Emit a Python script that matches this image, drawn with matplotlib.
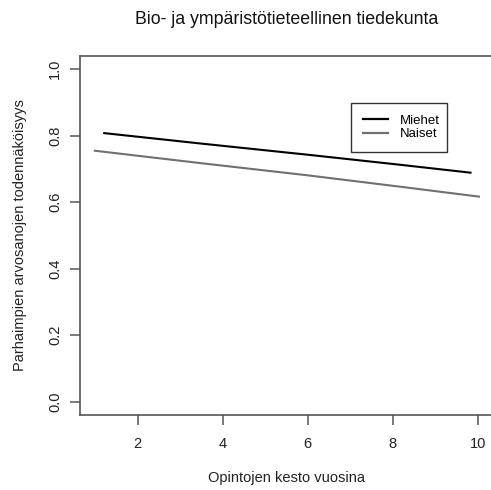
import matplotlib
matplotlib.use("Agg")
import matplotlib.pyplot as plt
from matplotlib.patches import Rectangle

plt.rcParams['font.family'] = ['Liberation Sans', 'DejaVu Sans']

# Predicted probability of top grades by study duration (years)
years_men = [1.21, 3.46, 6.0, 8.16, 9.83]
prob_men = [0.808, 0.777, 0.743, 0.713, 0.689]
years_women = [0.99, 3.46, 6.0, 8.16, 10.03]
prob_women = [0.755, 0.718, 0.681, 0.647, 0.617]

labels = ["Miehet", "Naiset"]
xticks = [2, 4, 6, 8, 10]
yticks = [0.0, 0.2, 0.4, 0.6, 0.8, 1.0]

W, H = 491, 490
fig = plt.figure(figsize=(W / 100, H / 100), dpi=100)
left, right, top, bottom = 80, 493, 56, 415
ax = fig.add_axes([left / W, 1 - bottom / H, (right - left) / W, (bottom - top) / H])

ax.plot(years_men, prob_men, color="black", lw=1.5, label=labels[0])
ax.plot(years_women, prob_women, color="#707070", lw=1.5, label=labels[1])

ax.set_xlim(0.64, 10.36)
ax.set_ylim(-0.04, 1.04)
ax.set_xticks(xticks)
ax.set_xticklabels([str(t) for t in xticks])
ax.set_yticks(yticks)
ax.set_yticklabels([f"{t:.1f}" for t in yticks], rotation=90, va="center")

for s in ax.spines.values():
    s.set_color("#555555")
    s.set_linewidth(1.2)
ax.tick_params(direction="out", length=7, width=1.1, colors="#555555",
               labelcolor="#222222", labelsize=10.5, pad=9)
ax.tick_params(axis="y", pad=6)

ax.set_xlabel("Opintojen kesto vuosina", fontsize=10.5, color="#222222", labelpad=14)
ax.set_ylabel("Parhaimpien arvosanojen todennäköisyys", fontsize=10.5,
              color="#222222", labelpad=15)
fig.text((left + right) / 2 / W, 1 - 20 / H, "Bio- ja ympäristötieteellinen tiedekunta",
         ha="center", va="center", fontsize=12.8, color="#111111")

# legend: entries without frame, then a plain box around them
leg = ax.legend(loc="center left", bbox_to_anchor=(363 / W, 1 - 127.5 / H),
                bbox_transform=fig.transFigure, frameon=False,
                fontsize=9.5, handlelength=1.9, handletextpad=0.9,
                borderpad=0, labelspacing=0.08, borderaxespad=0)
for h in leg.get_lines():
    h.set_linewidth(1.6)
fig.patches.append(Rectangle((351 / W, 1 - 152 / H), 96 / W, 49 / H,
                             transform=fig.transFigure, fill=False,
                             edgecolor="#333333", linewidth=1.0))

fig.savefig("out.png", dpi=100)
